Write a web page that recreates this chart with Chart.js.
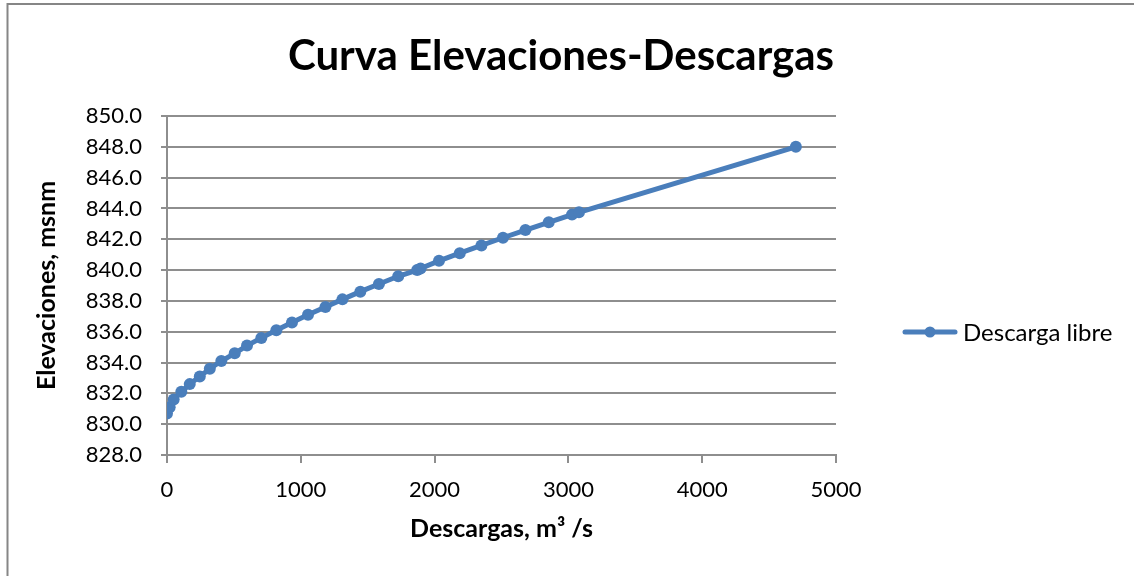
<!DOCTYPE html>
<html lang="es">
<head>
<meta charset="utf-8">
<title>Curva Elevaciones-Descargas</title>
<script src="https://cdn.jsdelivr.net/npm/chart.js@4.4.1/dist/chart.umd.min.js"></script>
<style>
    html, body { margin: 0; padding: 0; background: #fff; }
    #wrap { position: relative; width: 1134px; height: 576px; }
</style>
</head>
<body>
<div id="wrap"><canvas id="_dm-rating" width="1134" height="576"></canvas></div>
<script>
// Rating curve data: discharge (m3/s) vs. reservoir elevation (msnm)
// ----------------------------------------------
const discharges = [0, 20, 50, 107, 170, 245, 320, 406, 506, 598, 705, 817, 934, 1054, 1184,
                    1311, 1445, 1584, 1728, 1870, 1895, 2033, 2188, 2350, 2511, 2679, 2853,
                    3027, 3079, 4700];
const elevations = [830.7, 831.1, 831.6, 832.1, 832.6, 833.1, 833.6, 834.1, 834.6, 835.1,
                    835.6, 836.1, 836.6, 837.1, 837.6, 838.1, 838.6, 839.1, 839.6, 840.0,
                    840.1, 840.6, 841.1, 841.6, 842.1, 842.6, 843.1, 843.6, 843.75, 848.0];
const seriesLabel  = "Descarga libre";
const chartTitle   = "Curva Elevaciones-Descargas";
const xAxisTitle   = "Descargas, m\u00b3 /s";
const yAxisTitle   = "Elevaciones, msnm";
const yTicks       = { min: 828, max: 850, step: 2 };
const xTicks       = { min: 0, max: 5000, step: 1000 };

document.addEventListener( "DOMContentLoaded", () => {

    const lineColor  = "#4a7ebb";
    const gridColor  = "#8e8e8e";
    const textColor  = "#000";

    Chart.defaults.font.family = "Lato, 'Open Sans', sans-serif";
    Chart.defaults.color = textColor;

    const points = discharges.map( ( q, i ) => ({ x: q, y: elevations[i] }) );


    // Outer frame and title, centred on the whole canvas
    // ----------------------------------------------
    const framePlugin = {
        id: "frame",
        beforeDraw( chart ) {
            const ctx = chart.ctx;
            ctx.save();
            ctx.strokeStyle = "#868686";
            ctx.lineWidth = 2;
            ctx.beginPath();
            ctx.moveTo( 7.5, chart.height );
            ctx.lineTo( 7.5, 4 );
            ctx.lineTo( chart.width, 4 );
            ctx.stroke();

            ctx.fillStyle = textColor;
            ctx.font = "bold 42px Lato";
            ctx.textAlign = "center";
            ctx.textBaseline = "alphabetic";
            ctx.fillText( chartTitle, 561, 70 );
            ctx.restore();
        }
    };


    // Legend entry: line with a dot marker, right of the plot
    // ----------------------------------------------
    const legendPlugin = {
        id: "lineLegend",
        afterDraw( chart ) {
            const ctx = chart.ctx;
            const ds  = chart.data.datasets[0];
            const y   = 332;
            ctx.save();
            ctx.strokeStyle = ds.borderColor;
            ctx.lineWidth = ds.borderWidth;
            ctx.lineCap = "round";
            ctx.beginPath();
            ctx.moveTo( 905, y );
            ctx.lineTo( 955, y );
            ctx.stroke();
            ctx.fillStyle = ds.pointBackgroundColor;
            ctx.beginPath();
            ctx.arc( 930, y, 5.5, 0, Math.PI * 2 );
            ctx.fill();
            ctx.fillStyle = textColor;
            ctx.font = "24px Lato";
            ctx.textBaseline = "middle";
            ctx.fillText( ds.label, 963, y + 1 );
            ctx.restore();
        }
    };


    // Scatter with connecting line
    // ----------------------------------------------
    new Chart(
        document.getElementById( "_dm-rating" ), {
            type: "scatter",
            data: {
                datasets: [
                    {
                        label: seriesLabel,
                        data: points,
                        showLine: true,
                        borderColor: lineColor,
                        borderWidth: 5,
                        pointBackgroundColor: lineColor,
                        pointBorderWidth: 0,
                        pointRadius: 6,
                        tension: 0
                    }
                ]
            },
            plugins: [ framePlugin, legendPlugin ],
            options: {
                responsive: false,
                animation: false,
                layout: {
                    padding: { left: 0, right: 298, top: 116, bottom: 0 }
                },
                plugins: {
                    legend: { display: false },
                    tooltip: { enabled: false },
                    title: { display: false }
                },
                scales: {
                    y: {
                        min: yTicks.min,
                        max: yTicks.max,
                        afterFit( scale ) { scale.width = 167; },
                        border: { display: true, color: gridColor, width: 2 },
                        grid: {
                            color: gridColor,
                            lineWidth: 2,
                            tickLength: 6
                        },
                        ticks: {
                            stepSize: yTicks.step,
                            padding: 19,
                            font: { size: 22 },
                            color: textColor,
                            callback: ( v ) => v.toFixed( 1 )
                        },
                        title: {
                            display: true,
                            text: yAxisTitle,
                            color: textColor,
                            font: { size: 25, weight: "bold" },
                            padding: { top: 32, bottom: 0 }
                        }
                    },
                    x: {
                        min: xTicks.min,
                        max: xTicks.max,
                        afterFit( scale ) { scale.height = 121; },
                        border: { display: true, color: gridColor, width: 2 },
                        grid: {
                            color: gridColor,
                            lineWidth: 2,
                            drawOnChartArea: false,
                            tickLength: 8
                        },
                        ticks: {
                            stepSize: xTicks.step,
                            padding: 14,
                            maxRotation: 0,
                            font: { size: 22 },
                            color: textColor,
                            callback: ( v ) => String( v )
                        },
                        title: {
                            display: true,
                            text: xAxisTitle,
                            color: textColor,
                            font: { size: 25, weight: "bold" },
                            padding: { top: 0, bottom: 32 }
                        }
                    }
                }
            }
        }
    );

});
</script>
</body>
</html>
